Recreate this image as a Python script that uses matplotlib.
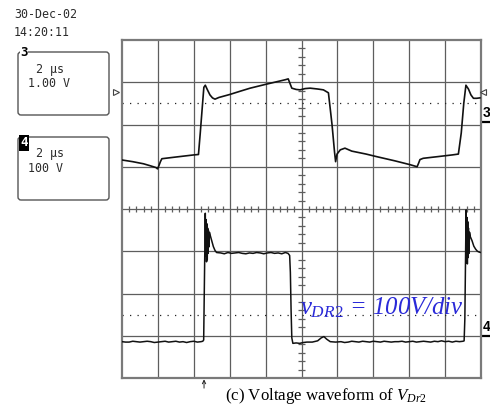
import matplotlib
matplotlib.use("Agg")
import matplotlib.pyplot as plt
from matplotlib.patches import FancyBboxPatch
import matplotlib.transforms as mtransforms

plt.rcParams["mathtext.fontset"] = "custom"
plt.rcParams["mathtext.rm"] = "Liberation Serif"
plt.rcParams["mathtext.it"] = "Liberation Serif:italic"

# ---- scope settings ----
date_text = "30-Dec-02"
time_text = "14:20:11"
ch3_timebase = "2 µs"
ch3_scale_text = "1.00 V"
ch4_timebase = "2 µs"
ch4_scale_text = "100 V"
us_per_div = 2.0
ch3_volts_per_div = 1.0
ch4_volts_per_div = 100.0
ch3_ground_div = 6.05      # screen division (from bottom) of channel 3 zero
ch4_ground_div = 1.0       # screen division (from bottom) of channel 4 zero
trigger_time_us = 4.57
caption = r"(c) Voltage waveform of $\mathit{V}_{\mathit{Dr2}}$"
annotation = r"$\mathit{v}_{\mathit{DR2}}$ = 100V/div"

# ---- channel 3 trace (time in µs, volts) ----
ch3_t = [0.00, 0.60, 1.20, 1.60, 1.90, 1.98, 2.06, 2.14, 2.22, 2.80, 3.40, 4.00,
         4.26, 4.36, 4.48, 4.56, 4.64, 4.76, 4.90, 5.04, 5.18, 5.40, 6.00, 6.60,
         7.14, 8.00, 8.80, 9.10, 9.26, 9.36, 9.46, 9.70, 9.92, 10.20, 10.48, 10.90,
         11.22, 11.50, 11.70, 11.84, 11.90, 11.98, 12.16, 12.42, 12.80, 13.60, 14.18,
         15.20, 16.04, 16.44, 16.52, 16.60, 16.78, 17.60, 18.40, 18.74, 18.90, 19.04,
         19.16, 19.30, 19.44, 19.58, 19.76, 19.94]
ch3_v = [-0.89, -0.93, -0.98, -1.03, -1.07, -1.10, -1.02, -0.93, -0.86, -0.83, -0.80, -0.77,
         -0.76, -0.25, 0.40, 0.83, 0.88, 0.77, 0.65, 0.58, 0.55, 0.59, 0.66, 0.74,
         0.81, 0.90, 0.98, 1.01, 1.03, 0.92, 0.81, 0.78, 0.77, 0.80, 0.81, 0.79,
         0.77, 0.70, -0.05, -0.70, -0.93, -0.75, -0.65, -0.61, -0.68, -0.75, -0.81,
         -0.91, -1.00, -1.05, -0.97, -0.88, -0.85, -0.81, -0.77, -0.75, -0.25, 0.45,
         0.88, 0.79, 0.65, 0.57, 0.57, 0.58]

# ---- channel 4 trace (time in µs, volts) ----
ch4_t = [0.0, 0.2, 0.4, 0.6, 0.8, 1.0, 1.2, 1.4, 1.6, 1.8, 2.0, 2.2, 2.4, 2.6, 2.8,
         3.0, 3.2, 3.4, 3.6, 3.8, 4.0, 4.2, 4.4, 4.50, 4.55, 4.60, 4.64, 4.67, 4.69,
         4.71, 4.73, 4.75, 4.77, 4.79, 4.81, 4.84, 4.87, 4.90, 5.00, 5.09, 5.18, 5.27,
         5.5, 5.7, 5.9, 6.1, 6.3, 6.5, 6.7, 6.9, 7.1, 7.3, 7.5, 7.7, 7.9, 8.1, 8.3,
         8.5, 8.7, 8.9, 9.1, 9.25, 9.34, 9.38, 9.42, 9.46, 9.52, 9.7, 9.9, 10.1, 10.3,
         10.6, 10.9, 11.1, 11.25, 11.4, 11.6, 11.9, 12.2, 12.4, 12.6, 12.8, 13.0, 13.2,
         13.4, 13.6, 13.8, 14.0, 14.2, 14.4, 14.6, 14.8, 15.0, 15.2, 15.4, 15.6, 15.8,
         16.0, 16.2, 16.4, 16.6, 16.8, 17.0, 17.2, 17.4, 17.6, 17.8, 18.0, 18.2, 18.4,
         18.6, 18.8, 19.00, 19.06, 19.10, 19.14, 19.17, 19.20, 19.22, 19.24, 19.26,
         19.28, 19.30, 19.33, 19.36, 19.40, 19.50, 19.60, 19.70, 19.80, 19.90, 20.0]
ch4_v = [-14, -15, -15, -13, -14, -15, -14, -13, -14, -16, -15, -14, -13, -15, -14,
         -13, -15, -14, -16, -14, -13, -15, -14, -13, -10, 150, 290, 190, 275,
         175, 265, 180, 255, 195, 250, 210, 245, 240, 225, 211, 202, 197,
         196, 194, 197, 195, 196, 197, 195, 194, 196, 195, 197, 196, 194, 196, 197,
         195, 196, 194, 197, 195, 190, 150, 60, -5, -18, -17, -18, -16, -15,
         -15, -12, -5, -2, -8, -14, -15, -14, -16, -15, -13, -14, -15,
         -13, -14, -15, -13, -14, -15, -13, -14, -15, -14, -14, -13, -15,
         -14, -13, -15, -14, -13, -14, -15, -13, -14, -12, -14, -13, -15,
         -13, -14, -13, -12, 40, 200, 298, 180, 280, 170, 270,
         185, 255, 195, 245, 235, 225, 212, 205, 200, 198, 197]

W, H = 490, 413
fig = plt.figure(figsize=(W / 100, H / 100), dpi=100)
fig.patch.set_facecolor("white")

# ---- graticule axes ----
gl, gt, gr, gb = 122, 40, 481, 378
ax = fig.add_axes([gl / W, 1 - gb / H, (gr - gl) / W, (gb - gt) / H])
ax.set_xlim(0, 10 * us_per_div)
ax.set_ylim(0, 8)
ax.set_xticks([])
ax.set_yticks([])
for s in ax.spines.values():
    s.set_color("#7a7a7a")
    s.set_linewidth(1.6)

grid_col = "#5e5e5e"
for i in range(1, 10):
    ax.axvline(i * us_per_div, color=grid_col, lw=0.9, zorder=1)
for j in range(1, 8):
    ax.axhline(j, color=grid_col, lw=0.9, zorder=1)

# minor ticks along the centre lines
tick_x = [k * 0.2 * us_per_div for k in range(1, 50) if k % 5]
ax.vlines(tick_x, 4 - 0.08, 4 + 0.08, color=grid_col, lw=0.9, zorder=1)
tick_y = [k * 0.2 for k in range(1, 40) if k % 5]
ax.hlines(tick_y, 10 - 0.17, 10 + 0.17, color=grid_col, lw=0.9, zorder=1)

# dotted reference levels
ax.axhline(6.5, color="#222222", lw=0.9, ls=(0, (1, 5)), zorder=2)
ax.axhline(1.5, color="#222222", lw=0.9, ls=(0, (1, 5)), zorder=2)

# traces
y3 = [ch3_ground_div + v / ch3_volts_per_div for v in ch3_v]
y4 = [ch4_ground_div + v / ch4_volts_per_div for v in ch4_v]
ax.plot(ch3_t, y3, color="#111111", lw=1.2, zorder=4)
ax.plot(ch4_t, y4, color="#111111", lw=1.1, zorder=4)

# trigger level markers
trig_level = 6.77
ax.plot([-0.33], [trig_level], marker=">", ms=5, mfc="white", mec="#444444",
        mew=0.8, clip_on=False, zorder=5)
ax.plot([20.11], [trig_level], marker="<", ms=5, mfc="white", mec="#444444",
        mew=0.8, clip_on=False, zorder=5)

# channel ground markers on the right
bt = mtransforms.blended_transform_factory(ax.transAxes, ax.transData)
for lvl, lab in [(ch3_ground_div, "3"), (ch4_ground_div, "4")]:
    ax.plot([1.0, 1.025], [lvl, lvl], color="black", lw=1.6, transform=bt,
            clip_on=False, solid_capstyle="butt")
    ax.text(1.015, lvl + 0.05, lab, transform=bt, ha="center", va="bottom",
            fontsize=10, fontweight="bold", family="Liberation Sans")

# trigger position arrow
ax.annotate("", xy=(trigger_time_us, -0.004), xytext=(trigger_time_us, -0.03),
            xycoords=("data", "axes fraction"), textcoords=("data", "axes fraction"),
            arrowprops=dict(arrowstyle="->", lw=0.7, color="#222222",
                            shrinkA=0, shrinkB=0, mutation_scale=6))

# annotation inside the graticule
ax.text(9.92, 1.5, annotation, color="#2a2ad8", fontsize=17.8,
        family="Liberation Serif", style="italic", ha="left", va="baseline",
        zorder=6)

# ---- overlay in pixel coordinates for the side panel ----
ov = fig.add_axes([0, 0, 1, 1], facecolor="none")
ov.set_xlim(0, W)
ov.set_ylim(H, 0)
ov.axis("off")

mono = "DejaVu Sans Mono"
tcol = "#2b2b2b"
ov.text(14, 15, date_text, family=mono, fontsize=8.4, color=tcol, va="center")
ov.text(14, 32.5, time_text, family=mono, fontsize=8.4, color=tcol, va="center")

for top, bot in [(52, 115), (137, 200)]:
    ov.add_patch(FancyBboxPatch((18, top), 91, bot - top,
                                boxstyle="round,pad=0,rounding_size=3",
                                fc="none", ec="#555555", lw=1.0))

ov.text(24, 52, "3", family=mono, fontsize=9, fontweight="bold", color="black",
        ha="center", va="center",
        bbox=dict(boxstyle="square,pad=0.05", fc="white", ec="none"))
ov.text(24, 143, "4", family=mono, fontsize=9, fontweight="bold", color="white",
        ha="center", va="center",
        bbox=dict(boxstyle="square,pad=0.1", fc="black", ec="none"))

ov.text(36, 70, ch3_timebase, family=mono, fontsize=8.4, color=tcol, va="center")
ov.text(28, 83.5, ch3_scale_text, family=mono, fontsize=8.4, color=tcol, va="center")
ov.text(36, 153.5, ch4_timebase, family=mono, fontsize=8.4, color=tcol, va="center")
ov.text(28, 168, ch4_scale_text, family=mono, fontsize=8.4, color=tcol, va="center")

ov.text(326, 400, caption, family="Liberation Serif", fontsize=12.2,
        ha="center", va="baseline", color="black")

fig.savefig("out.png", dpi=100)
